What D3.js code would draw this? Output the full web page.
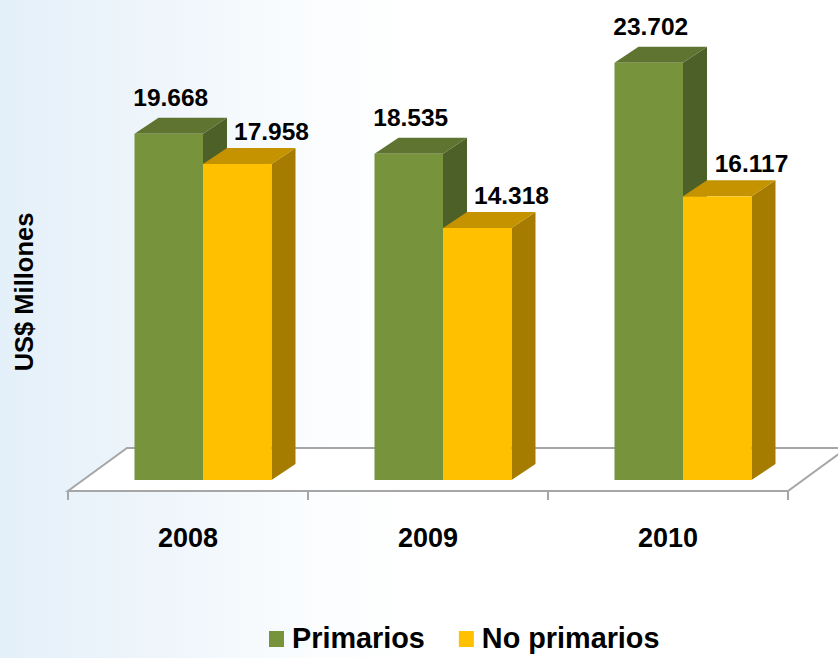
<!DOCTYPE html>
<html><head><meta charset="utf-8">
<script src="https://cdn.jsdelivr.net/npm/d3@7"></script>
<style>html,body{margin:0;padding:0;background:#fff;}svg{display:block;}</style>
</head><body>
<svg id="c" width="838" height="658"></svg>
<script>
const categories = ["2008", "2009", "2010"];
const seriesNames = ["Primarios", "No primarios"];
const primarios = [19.668, 18.535, 23.702];
const noPrimarios = [17.958, 14.318, 16.117];
const valueLabels = [["19.668", "18.535", "23.702"], ["17.958", "14.318", "16.117"]];
const yTitle = "US$ Millones";

const W = 838, H = 658;
const svg = d3.select("#c");
const defs = svg.append("defs");
const g = defs.append("linearGradient").attr("id", "bg").attr("x1", 0).attr("x2", 1).attr("y1", 0).attr("y2", 0);
g.append("stop").attr("offset", "0%").attr("stop-color", "#e4f0f9");
g.append("stop").attr("offset", "18%").attr("stop-color", "#eef5fb");
g.append("stop").attr("offset", "38%").attr("stop-color", "#fbfdfe");
g.append("stop").attr("offset", "50%").attr("stop-color", "#ffffff");
svg.append("rect").attr("width", W).attr("height", H).attr("fill", "url(#bg)");

const colors = [
  {front: "#77933c", top: "#5e7430", side: "#4c6027"},
  {front: "#ffc000", top: "#c59300", side: "#a57b00"}
];

// geometry
const floorY = 491, floorL = 68, floorR = 788;
const fdx = 59, fdy = 43;       // floor depth
const bdx = 24, bdy = 16;       // bar depth
const ox = 15, oy = 11;         // bar plane offset from floor front
const baseY = floorY - oy;

const x = d3.scaleBand().domain(categories).range([floorL, floorR]).paddingInner(0).paddingOuter(0);
const barW = 68.5;
const xs = d3.scaleBand().domain(seriesNames).range([-barW, barW]);
const y = d3.scaleLinear().domain([0, 25]).range([baseY, baseY - 25 * 17.6]);

// floor
const floor = svg.append("g");
floor.append("path")
  .attr("d", `M${floorL},${floorY} L${floorR},${floorY} L${floorR + fdx},${floorY - fdy} L${floorL + fdx},${floorY - fdy} Z`)
  .attr("fill", "#ffffff").attr("stroke", "#a6a6a6").attr("stroke-width", 2);
const axisG = svg.append("g").attr("transform", `translate(0,${floorY})`)
  .call(d3.axisBottom(x).tickSize(0).tickFormat(""));
axisG.select(".domain").remove();
const tickXs = [floorL].concat(categories.map(c => x(c) + x.bandwidth()));
svg.append("g").selectAll("line").data(tickXs).join("line")
  .attr("x1", d => d).attr("x2", d => d).attr("y1", floorY).attr("y2", floorY + 9)
  .attr("stroke", "#a6a6a6").attr("stroke-width", 2);

// bars
const data = [];
categories.forEach((c, i) => {
  [primarios[i], noPrimarios[i]].forEach((v, s) => data.push({c, s, v, i}));
});
const bars = svg.append("g");
data.forEach(d => {
  const x0 = x(d.c) + x.bandwidth() / 2 + ox + xs(seriesNames[d.s]);
  const x1 = x0 + barW;
  const yt = y(d.v), yb = y(0);
  const col = colors[d.s];
  const gg = bars.append("g");
  gg.append("path").attr("d", `M${x1},${yb} L${x1},${yt} L${x1 + bdx},${yt - bdy} L${x1 + bdx},${yb - bdy} Z`).attr("fill", col.side);
  gg.append("path").attr("d", `M${x0},${yt} L${x0 + bdx},${yt - bdy} L${x1 + bdx},${yt - bdy} L${x1},${yt} Z`).attr("fill", col.top);
  gg.append("rect").attr("x", x0).attr("y", yt).attr("width", barW).attr("height", yb - yt).attr("fill", col.front);
  d.lx = d.s === 0 ? x0 + barW / 2 + 2 : x1;
  d.ly = d.s === 0 ? yt - bdy - 12 : yt - bdy - 8;
});

// value labels
svg.append("g").selectAll("text").data(data).join("text")
  .attr("x", d => d.lx).attr("y", d => d.ly)
  .attr("text-anchor", "middle")
  .attr("font-family", "Arial, 'Liberation Sans', sans-serif").attr("font-weight", "bold").attr("font-size", 24.5)
  .attr("fill", "#000")
  .text(d => valueLabels[d.s][d.i]);

// category labels
svg.append("g").selectAll("text").data(categories).join("text")
  .attr("x", d => x(d) + x.bandwidth() / 2).attr("y", 547)
  .attr("text-anchor", "middle")
  .attr("font-family", "Arial, 'Liberation Sans', sans-serif").attr("font-weight", "bold").attr("font-size", 27)
  .text(d => d);

// y title
svg.append("text")
  .attr("transform", "translate(33,292) rotate(-90)")
  .attr("text-anchor", "middle")
  .attr("font-family", "Arial, 'Liberation Sans', sans-serif").attr("font-weight", "bold").attr("font-size", 25.5)
  .text(yTitle);

// legend
const leg = svg.append("g");
let lx = 269;
seriesNames.forEach((n, s) => {
  leg.append("rect").attr("x", lx).attr("y", 631).attr("width", 15).attr("height", 16).attr("fill", colors[s].front);
  const t = leg.append("text").attr("x", lx + 23).attr("y", 648)
    .attr("font-family", "Arial, 'Liberation Sans', sans-serif").attr("font-weight", "bold").attr("font-size", 28.8)
    .text(n);
  lx = lx + 23 + t.node().getComputedTextLength() + 34;
});
</script>
</body></html>
